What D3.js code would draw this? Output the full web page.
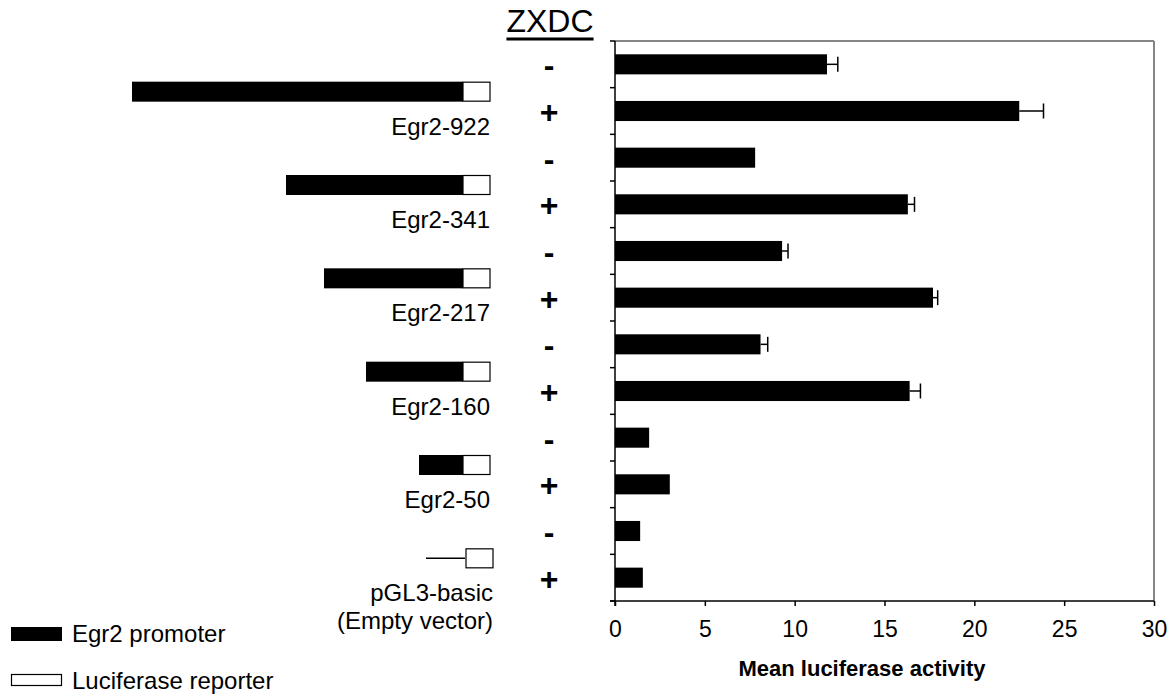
<!DOCTYPE html>
<html>
<head>
<meta charset="utf-8">
<script src="https://cdn.jsdelivr.net/npm/d3@7"></script>
<style>
  html, body { margin: 0; padding: 0; background: #fff; }
  svg { display: block; font-family: "Liberation Sans", Arial, sans-serif; }
</style>
</head>
<body>
<svg id="chart" width="1169" height="696"></svg>
<script>
// Reporter constructs (one per pair of rows) and their promoter lengths in bp
const constructs = ["Egr2-922", "Egr2-341", "Egr2-217", "Egr2-160", "Egr2-50", "pGL3-basic"];
const promoterBp = [922, 341, 217, 160, 50, 0];
// ZXDC co-transfection state within each pair
const zxdcStates = ["-", "+"];
// Mean luciferase activity and error for each row, top to bottom
const meanActivity = [11.8, 22.5, 7.8, 16.3, 9.3, 17.7, 8.1, 16.4, 1.9, 3.05, 1.4, 1.55];
const errActivity  = [0.6, 1.35, 0, 0.37, 0.33, 0.26, 0.4, 0.6, 0, 0, 0, 0];
const xTicks = [0, 5, 10, 15, 20, 25, 30];
const legendItems = ["Egr2 promoter", "Luciferase reporter"];

const svg = d3.select("#chart");

// Build one row per construct / ZXDC combination
const rows = [];
constructs.forEach((c, i) => {
  zxdcStates.forEach((z, j) => {
    const k = i * zxdcStates.length + j;
    rows.push({ id: k, construct: c, zxdc: z, value: meanActivity[k], err: errActivity[k] });
  });
});

const plot = { left: 615, right: 1154, top: 41, bottom: 601 };

const x = d3.scaleLinear().domain([0, 30]).range([plot.left, plot.right]);
const y = d3.scaleBand()
  .domain(rows.map(d => d.id))
  .range([plot.top, plot.bottom])
  .paddingInner(0.57)
  .paddingOuter(0.285);
const step = y.step();
const boundary = id => y(id) - step * y.paddingInner() / 2;
const yCenter = id => y(id) + y.bandwidth() / 2;

// Frame: top and right edges in grey
svg.append("line")
  .attr("x1", plot.left).attr("x2", plot.right)
  .attr("y1", plot.top).attr("y2", plot.top)
  .attr("stroke", "#858585").attr("stroke-width", 2);
svg.append("line")
  .attr("x1", plot.right).attr("x2", plot.right)
  .attr("y1", plot.top).attr("y2", plot.bottom)
  .attr("stroke", "#858585").attr("stroke-width", 2);

// Bars
svg.append("g").selectAll("rect")
  .data(rows)
  .join("rect")
  .attr("x", x(0))
  .attr("y", d => y(d.id))
  .attr("width", d => x(d.value) - x(0))
  .attr("height", y.bandwidth())
  .attr("fill", "#000");

// Error bars (upper side only)
const eb = svg.append("g").attr("stroke", "#000").attr("stroke-width", 1.5);
rows.filter(d => d.err > 0).forEach(d => {
  const cy = yCenter(d.id);
  eb.append("line")
    .attr("x1", x(d.value)).attr("x2", x(d.value + d.err))
    .attr("y1", cy).attr("y2", cy);
  eb.append("line")
    .attr("x1", x(d.value + d.err)).attr("x2", x(d.value + d.err))
    .attr("y1", cy - 7.5).attr("y2", cy + 7.5);
});

// Category axis with ticks at the row boundaries
const yAxisG = svg.append("g").attr("stroke", "#000");
yAxisG.append("line")
  .attr("x1", plot.left).attr("x2", plot.left)
  .attr("y1", plot.top).attr("y2", plot.bottom + 5)
  .attr("stroke-width", 1.5);
const boundaries = rows.map(d => boundary(d.id)).concat([plot.bottom]);
yAxisG.selectAll("line.tick")
  .data(boundaries)
  .join("line")
  .attr("class", "tick")
  .attr("x1", plot.left - 5).attr("x2", plot.left)
  .attr("y1", d => d).attr("y2", d => d)
  .attr("stroke-width", 1.5);

// Value axis
const xAxis = d3.axisBottom(x).tickValues(xTicks).tickSize(5).tickSizeOuter(0).tickPadding(15);
const xg = svg.append("g")
  .attr("transform", `translate(0,${plot.bottom})`)
  .call(xAxis);
xg.select(".domain").attr("stroke", "#000").attr("stroke-width", 1.5)
  .attr("d", `M${plot.left - 5},0H${plot.right}`);
xg.selectAll(".tick line").attr("stroke", "#000").attr("stroke-width", 1.5);
xg.selectAll(".tick text")
  .attr("fill", "#000")
  .style("font-family", "\"Liberation Sans\", Arial, sans-serif")
  .style("font-size", "23px");

svg.append("text")
  .attr("x", 862)
  .attr("y", 676)
  .attr("text-anchor", "middle")
  .style("font-size", "22px")
  .style("font-weight", "bold")
  .text("Mean luciferase activity");

// ZXDC header, underlined
const header = svg.append("text")
  .attr("x", 550).attr("y", 32)
  .attr("text-anchor", "middle")
  .style("font-size", "32px")
  .text("ZXDC");
const hb = header.node().getBBox();
svg.append("line")
  .attr("x1", hb.x).attr("x2", hb.x + hb.width)
  .attr("y1", 39).attr("y2", 39)
  .attr("stroke", "#000").attr("stroke-width", 3);

// +/- markers per row
svg.append("g").selectAll("text")
  .data(rows)
  .join("text")
  .attr("x", 549)
  .attr("y", d => yCenter(d.id) + 12)
  .attr("text-anchor", "middle")
  .style("font-size", "32px")
  .style("font-weight", "bold")
  .text(d => d.zxdc);

// Construct diagrams: promoter (black) + luciferase reporter (white)
const promoterWidth = d3.scaleLinear()
  .domain([0, 50, 160, 217, 341, 922])
  .range([0, 44, 97, 139, 177, 331]);
const lucRight = 490, lucWidth = 27, boxH = 20;
const diag = svg.append("g");
constructs.forEach((c, i) => {
  const rowId = i * zxdcStates.length + 1;
  const cy = boundary(rowId) + 4;
  const lucLeft = lucRight - lucWidth;
  if (promoterBp[i] > 0) {
    diag.append("rect")
      .attr("x", lucLeft - promoterWidth(promoterBp[i]))
      .attr("y", cy - boxH / 2)
      .attr("width", promoterWidth(promoterBp[i]))
      .attr("height", boxH)
      .attr("fill", "#000");
  } else {
    diag.append("line")
      .attr("x1", lucLeft - 37).attr("x2", lucLeft + 2)
      .attr("y1", cy).attr("y2", cy)
      .attr("stroke", "#000").attr("stroke-width", 1.5);
  }
  const shift = promoterBp[i] > 0 ? 0 : 3;
  diag.append("rect")
    .attr("x", lucLeft + shift).attr("y", cy - boxH / 2 + 0.5)
    .attr("width", lucWidth).attr("height", boxH - 1)
    .attr("fill", "#fff").attr("stroke", "#000").attr("stroke-width", 1.2);
  diag.append("text")
    .attr("x", lucRight + shift)
    .attr("y", cy + 43)
    .attr("text-anchor", "end")
    .style("font-size", "24px")
    .text(c);
  if (promoterBp[i] === 0) {
    diag.append("text")
      .attr("x", lucRight + shift)
      .attr("y", cy + 71)
      .attr("text-anchor", "end")
      .style("font-size", "24px")
      .text("(Empty vector)");
  }
});

// Legend
const legend = svg.append("g");
legend.append("rect")
  .attr("x", 11).attr("y", 627).attr("width", 51).attr("height", 14)
  .attr("fill", "#000");
legend.append("rect")
  .attr("x", 11.5).attr("y", 674.5).attr("width", 50).attr("height", 11)
  .attr("fill", "#fff").attr("stroke", "#000").attr("stroke-width", 1.2);
legend.selectAll("text")
  .data(legendItems)
  .join("text")
  .attr("x", 72)
  .attr("y", (d, i) => 642 + i * 47)
  .style("font-size", "24px")
  .text(d => d);
</script>
</body>
</html>
